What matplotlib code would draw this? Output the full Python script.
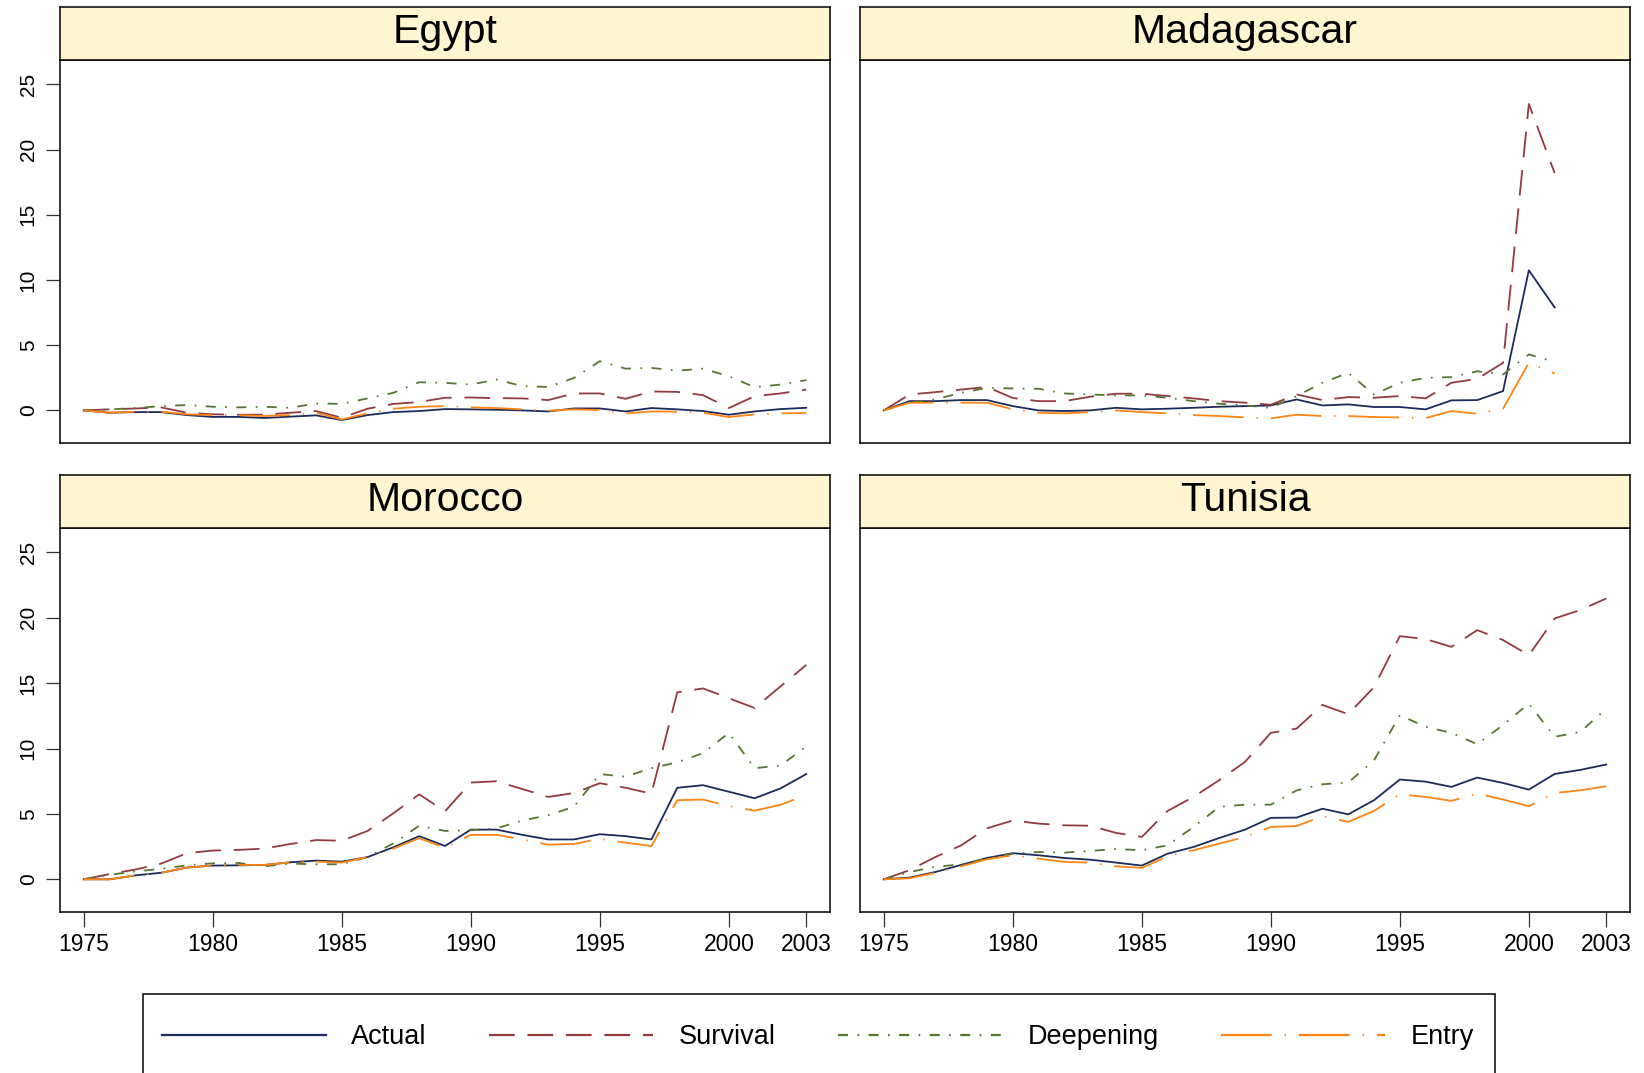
import matplotlib
matplotlib.use("Agg")
import matplotlib.pyplot as plt
from matplotlib.patches import Rectangle
from matplotlib.lines import Line2D

plt.rcParams['font.family'] = ['Liberation Sans', 'DejaVu Sans']
plt.rcParams['lines.scale_dashes'] = False

#===============================================================
#=               Data             =
#===============================================================
years = list(range(1975, 2004))
years_mdg = list(range(1975, 2002))

egy_actual = [0, -0.18, -0.13, -0.13, -0.36, -0.5, -0.5, -0.58, -0.48, -0.38, -0.74, -0.36, -0.13, -0.05, 0.1,
              0.08, 0.05, 0, -0.08, 0.15, 0.15, -0.08, 0.18, 0.08, -0.05, -0.33, -0.08, 0.1, 0.2]
egy_survival = [0, 0.08, 0.15, 0.23, -0.18, -0.3, -0.33, -0.33, -0.18, -0.05, -0.56, 0.13, 0.5, 0.64, 0.97,
                0.99, 0.94, 0.92, 0.79, 1.3, 1.3, 0.89, 1.45, 1.42, 1.17, 0.18, 1.09, 1.3, 1.6]
egy_deepening = [0, 0.08, 0.18, 0.33, 0.41, 0.28, 0.23, 0.28, 0.2, 0.53, 0.5, 0.92, 1.35, 2.16, 2.11,
                 1.98, 2.37, 1.86, 1.8, 2.49, 3.77, 3.2, 3.26, 3.05, 3.2, 2.62, 1.78, 1.98, 2.32]
egy_entry = [0, -0.18, -0.1, -0.1, -0.3, -0.36, -0.36, -0.43, -0.36, -0.18, -0.69, -0.23, 0.13, 0.28, 0.33,
             0.23, 0.18, 0.08, -0.03, 0.08, 0.03, -0.23, -0.08, -0.1, -0.18, -0.51, -0.3, -0.23, -0.2]

mdg_actual = [0, 0.71, 0.71, 0.79, 0.79, 0.33, 0, -0.05, 0, 0.2, 0.08, 0.13, 0.2, 0.28, 0.33,
              0.38, 0.84, 0.38, 0.46, 0.26, 0.26, 0.08, 0.77, 0.79, 1.48, 10.74, 7.9]
mdg_survival = [0, 1.22, 1.4, 1.6, 1.8, 0.95, 0.71, 0.71, 1.05, 1.28, 1.28, 1.1, 0.92, 0.71, 0.59,
                0.43, 1.22, 0.79, 1.02, 0.97, 1.1, 0.92, 2.12, 2.42, 3.65, 23.5, 18.2]
mdg_deepening = [0, 0.59, 0.84, 1.35, 1.73, 1.68, 1.66, 1.3, 1.22, 1.15, 1.15, 0.97, 0.71, 0.51, 0.38,
                 0.2, 1.1, 2.12, 2.88, 1.22, 2.12, 2.5, 2.55, 3.0, 2.76, 4.29, 3.72]
mdg_entry = [0, 0.59, 0.59, 0.59, 0.59, 0.08, -0.18, -0.23, -0.13, 0, -0.13, -0.23, -0.36, -0.43, -0.54,
             -0.61, -0.33, -0.43, -0.43, -0.51, -0.54, -0.59, -0.05, -0.26, 0.13, 3.65, 2.83]

mar_actual = [0, 0, 0.3, 0.5, 0.9, 1.05, 1.07, 1.1, 1.3, 1.43, 1.35, 1.7, 2.45, 3.3, 2.55,
              3.8, 3.8, 3.4, 3.05, 3.05, 3.45, 3.3, 3.05, 7.0, 7.2, 6.7, 6.2, 6.95, 8.05]
mar_survival = [0, 0.4, 0.75, 1.2, 2.0, 2.2, 2.25, 2.35, 2.7, 3.0, 2.95, 3.7, 5.05, 6.5, 5.2,
                7.4, 7.5, 6.9, 6.3, 6.6, 7.35, 7.0, 6.55, 14.3, 14.6, 13.85, 13.1, 14.75, 16.4]
mar_deepening = [0, 0.35, 0.6, 0.8, 1.07, 1.22, 1.25, 1.0, 1.2, 1.15, 1.15, 1.7, 2.75, 4.1, 3.7,
                 3.75, 3.9, 4.5, 4.9, 5.55, 8.05, 7.85, 8.5, 8.95, 9.65, 11.2, 8.5, 8.7, 10.15]
mar_entry = [0, 0, 0.3, 0.5, 0.9, 1.05, 1.1, 1.1, 1.3, 1.35, 1.28, 1.7, 2.35, 3.15, 2.4,
             3.4, 3.4, 3.05, 2.65, 2.7, 3.1, 2.8, 2.55, 6.05, 6.1, 5.6, 5.25, 5.7, 6.45]

tun_actual = [0, 0.13, 0.56, 1.1, 1.63, 2.0, 1.84, 1.63, 1.5, 1.28, 1.05, 1.96, 2.47, 3.16, 3.8,
              4.7, 4.72, 5.4, 4.97, 6.05, 7.63, 7.47, 7.07, 7.78, 7.37, 6.86, 8.06, 8.37, 8.78]
tun_survival = [0, 0.7, 1.7, 2.6, 3.9, 4.5, 4.26, 4.13, 4.1, 3.55, 3.24, 5.23, 6.3, 7.58, 8.98,
                11.2, 11.53, 13.34, 12.63, 14.7, 18.6, 18.37, 17.78, 19.06, 18.3, 17.14, 19.95, 20.6, 21.48]
tun_deepening = [0, 0.56, 0.95, 1.15, 1.58, 1.96, 2.09, 2.04, 2.17, 2.32, 2.22, 2.6, 4.0, 5.54, 5.71,
                 5.71, 6.8, 7.27, 7.4, 9.1, 12.55, 11.66, 11.2, 10.33, 11.8, 13.44, 10.9, 11.28, 13.06]
tun_entry = [0, 0.08, 0.5, 1.0, 1.53, 1.84, 1.58, 1.33, 1.28, 1.0, 0.87, 1.76, 2.22, 2.73, 3.24,
             4.0, 4.08, 4.82, 4.39, 5.23, 6.5, 6.3, 6.0, 6.56, 6.1, 5.59, 6.6, 6.81, 7.12]

countries = ["Egypt", "Madagascar", "Morocco", "Tunisia"]
series_names = ["Actual", "Survival", "Deepening", "Entry"]
panel_data = {
    "Egypt": (years, [egy_actual, egy_survival, egy_deepening, egy_entry]),
    "Madagascar": (years_mdg, [mdg_actual, mdg_survival, mdg_deepening, mdg_entry]),
    "Morocco": (years, [mar_actual, mar_survival, mar_deepening, mar_entry]),
    "Tunisia": (years, [tun_actual, tun_survival, tun_deepening, tun_entry]),
}
xticks = [1975, 1980, 1985, 1990, 1995, 2000, 2003]
yticks = [0, 5, 10, 15, 20, 25]

colors = ["#1c2a5c", "#923a40", "#56762f", "#ff8412"]
styles = ["-", (0, (18.5, 9.2)), (0, (7.2, 6.8, 1.2, 6.8)), (0, (36.5, 9.3, 1.0, 9.3))]

#===============================================================
#=               Plot                                          =
#===============================================================
fig = plt.figure(figsize=(16.44, 10.73), dpi=100)

# pixel boxes of each plot area (left, top, right, bottom)
W, H = 1644.0, 1073.0
boxes = {
    "Egypt": (60, 60, 830, 443),
    "Madagascar": (860, 60, 1630, 443),
    "Morocco": (60, 528, 830, 912),
    "Tunisia": (860, 528, 1630, 912),
}
strip_h = 53

for i, c in enumerate(countries):
    x0, y0, x1, y1 = boxes[c]
    ax = fig.add_axes([x0 / W, 1 - y1 / H, (x1 - x0) / W, (y1 - y0) / H])
    sx = fig.add_axes([x0 / W, 1 - y0 / H, (x1 - x0) / W, strip_h / H])
    sx.set_facecolor("#fff5d1")
    sx.set_xticks([])
    sx.set_yticks([])
    for sp in sx.spines.values():
        sp.set_linewidth(1.1)
    sx.text(0.5, 0.53, c, ha="center", va="center", fontsize=29.5, transform=sx.transAxes)

    xs, ys = panel_data[c]
    for k in range(4):
        ax.plot(xs, ys[k], color=colors[k], linestyle=styles[k], linewidth=1.3, label=series_names[k])
    ax.set_xlim(1974.08, 2003.92)
    ax.set_ylim(-2.5, 26.87)
    for sp in ax.spines.values():
        sp.set_linewidth(1.1)

    if i % 2 == 0:
        ax.set_yticks(yticks)
        ax.set_yticklabels([str(v) for v in yticks], rotation=90, va="center", fontsize=15)
        ax.tick_params(axis="y", length=10, width=0.9, color="#333333", pad=6)
    else:
        ax.set_yticks([])
    if i >= 2:
        ax.set_xticks(xticks)
        ax.set_xticklabels([str(v) for v in xticks], fontsize=16.5)
        ax.tick_params(axis="x", length=11, width=0.9, color="#333333", pad=4)
    else:
        ax.set_xticks([])

# legend
handles = [Line2D([], [], color=colors[k], linestyle=styles[k], linewidth=1.6) for k in range(4)]
fig.legend(handles, series_names, loc="center", bbox_to_anchor=(818 / W, 1 - 1037 / H), ncol=4,
           frameon=False, fontsize=19.5, handlelength=6.05, handletextpad=0.95, columnspacing=2.3)
fig.patches.append(Rectangle((143 / W, -0.01), (1495 - 143) / W, 0.01 + 1 - 994 / H,
                             transform=fig.transFigure, fill=False, edgecolor="black", linewidth=1.1))

plt.savefig("out.png", dpi=100)
